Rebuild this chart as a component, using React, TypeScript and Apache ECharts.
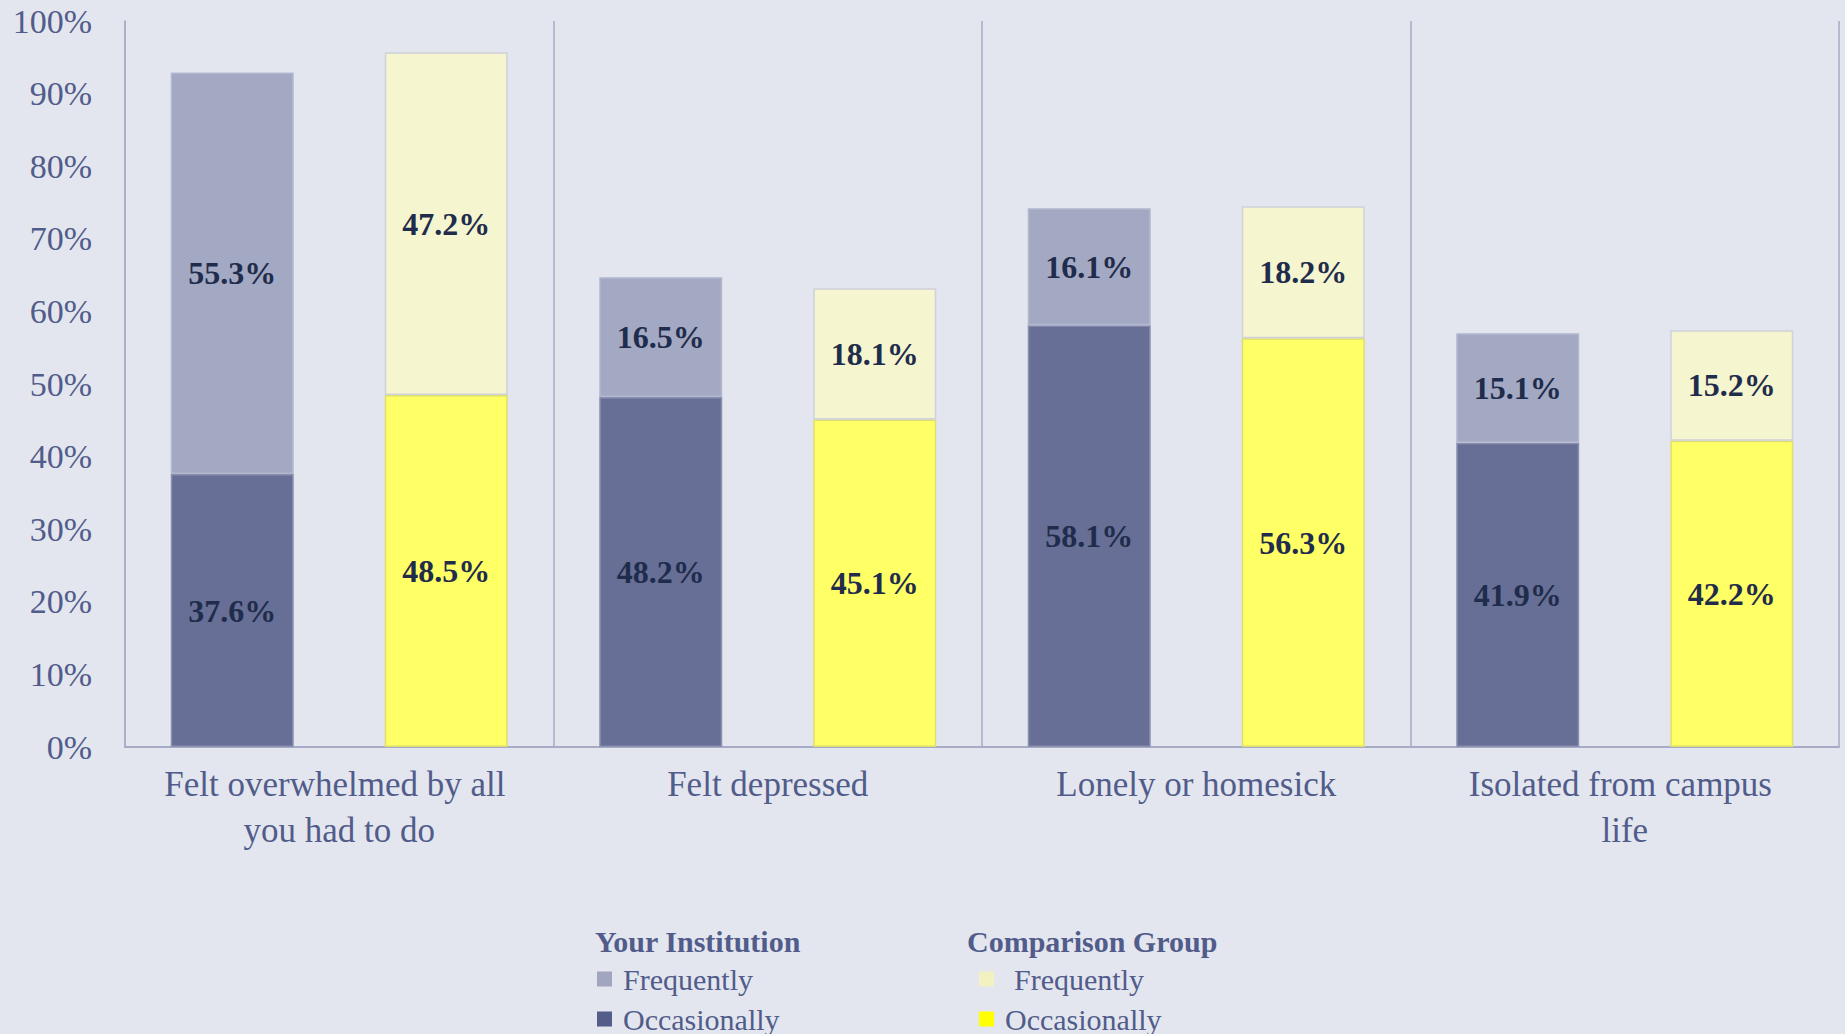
import React, { useEffect, useRef } from "react";
import * as echarts from "echarts";

const categories = [
  "Felt overwhelmed by all you had to do",
  "Felt depressed",
  "Lonely or homesick",
  "Isolated from campus life",
];
const yourOccasionally = [37.6, 48.2, 58.1, 41.9];
const yourFrequently = [55.3, 16.5, 16.1, 15.1];
const compOccasionally = [48.5, 45.1, 56.3, 42.2];
const compFrequently = [47.2, 18.1, 18.2, 15.2];
const yTickLabels = ["0%", "10%", "20%", "30%", "40%", "50%", "60%", "70%", "80%", "90%", "100%"];

const FONT = "'Liberation Serif', 'Times New Roman', serif";
const AXIS_TEXT = "#515c8b";
const LINE = "#a7abc6";
const LABEL = "#1f2c4b";

export default function App() {
  const ref = useRef<HTMLDivElement>(null);
  useEffect(() => {
    if (!ref.current) return;
    const chart = echarts.init(ref.current, undefined, { renderer: "svg" });
    const label = {
      show: true,
      position: "inside",
      color: LABEL,
      fontFamily: FONT,
      fontWeight: "bold",
      fontSize: 32,
      formatter: (p: any) => Number(p.value).toFixed(1) + "%",
    };
    const mk = (name: string, stack: string, data: number[], color: string, border: string) => ({
      name,
      type: "bar",
      stack,
      data,
      barWidth: 123,
      barGap: "74%",
      itemStyle: { color, borderColor: border, borderWidth: 1.5 },
      label,
      emphasis: { disabled: true },
    });
    const legendText = {
      color: AXIS_TEXT,
      fontFamily: FONT,
      fontSize: 30,
      lineHeight: 24,
      padding: [0, 0, 0, 6],
    };
    const oneLegend = (name: string, color: string, left: number, top: number, padLeft = 6) => ({
      orient: "horizontal",
      left,
      top,
      padding: 0,
      itemWidth: 15,
      itemHeight: 15,
      icon: "rect",
      selectedMode: false,
      formatter: (n: string) => n.split("|")[1],
      textStyle: { ...legendText, padding: [0, 0, 0, padLeft] },
      data: [{ name, itemStyle: { color, borderWidth: 0 } }],
    });
    chart.setOption({
      animation: false,
      backgroundColor: "#e3e6ee",
      textStyle: { fontFamily: FONT },
      grid: { left: 125, right: 6, top: 21, bottom: 287, containLabel: false },
      xAxis: {
        type: "category",
        data: categories,
        axisTick: { show: false },
        axisLine: { show: true, lineStyle: { color: LINE, width: 2 } },
        splitLine: { show: true, lineStyle: { color: LINE, width: 1.5 } },
        axisLabel: {
          color: AXIS_TEXT,
          fontFamily: FONT,
          fontSize: 35,
          lineHeight: 46,
          margin: 14,
          width: 350,
          overflow: "break",
          interval: 0,
        },
      },
      yAxis: {
        type: "value",
        min: 0,
        max: 100,
        interval: 10,
        axisLine: { show: true, lineStyle: { color: LINE, width: 1.5 } },
        axisTick: { show: false },
        splitLine: { show: false },
        axisLabel: {
          color: AXIS_TEXT,
          fontFamily: FONT,
          fontSize: 34,
          margin: 33,
          formatter: (v: number) => yTickLabels[Math.round(v / 10)],
        },
      },
      legend: [
        oneLegend("Your Institution|Frequently", "#a1a5bf", 597, 964),
        oneLegend("Your Institution|Occasionally", "#545c89", 597, 1004),
        oneLegend("Comparison Group|Frequently", "#f2f2c0", 979, 964, 15),
        oneLegend("Comparison Group|Occasionally", "#ffff00", 979, 1004),
      ],
      graphic: [
        {
          type: "text",
          left: 595,
          top: 926,
          style: { text: "Your Institution", fill: AXIS_TEXT, font: `bold 30px ${FONT}` },
        },
        {
          type: "text",
          left: 967,
          top: 926,
          style: { text: "Comparison Group", fill: AXIS_TEXT, font: `bold 30px ${FONT}` },
        },
      ],
      series: [
        mk("Your Institution|Occasionally", "yi", yourOccasionally, "#676f96", "#8a90b0"),
        mk("Your Institution|Frequently", "yi", yourFrequently, "#a3a8c3", "#b3b7cf"),
        mk("Comparison Group|Occasionally", "cg", compOccasionally, "#ffff66", "#dede70"),
        mk("Comparison Group|Frequently", "cg", compFrequently, "#f5f5cf", "#cfd1dc"),
      ],
    });
    return () => chart.dispose();
  }, []);
  return (
    <div
      ref={ref}
      style={{ position: "fixed", left: 0, top: 0, width: 1845, height: 1034 }}
    />
  );
}
